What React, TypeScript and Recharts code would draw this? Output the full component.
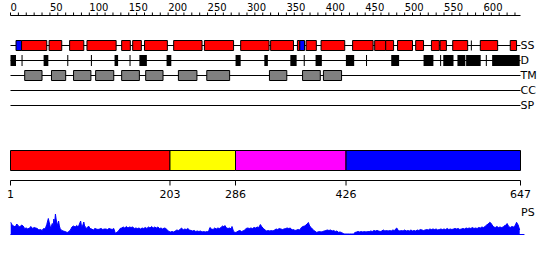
import React from 'react';
import { ComposedChart, AreaChart, Area, XAxis, YAxis, ReferenceArea } from 'recharts';

const FONT = '"DejaVu Sans", Verdana, sans-serif';
const SEQ_LEN = 647;

const rulerLabels = [0, 50, 100, 150, 200, 250, 300, 350, 400, 450, 500, 550, 600];
const rulerTicks = Array.from({ length: 65 }, (_, i) => i * 10);

const trackNames = ['SS', 'D', 'TM', 'CC', 'SP'];

const ssHelix: [number, number][] = [
  [14, 46], [49, 65], [75, 93], [97, 134], [141, 152], [155, 166], [170, 199],
  [207, 243], [246, 283], [292, 328], [330, 359], [364, 367], [375, 388],
  [394, 424], [434, 460], [462, 476], [476, 486], [491, 510], [514, 524],
  [534, 544], [545, 553], [561, 580], [596, 618], [634, 642],
];
const ssStrand: [number, number][] = [[7, 14], [367, 373]];
const ssCoil: [number, number][] = [[584, 585.3]];

const disorderBlocks: [number, number][] = [
  [0, 7], [42, 48], [132, 136.5], [163.5, 173], [198, 204], [285.5, 292], [322, 326.5],
  [355, 363], [387, 395], [425.5, 436], [483, 493], [524, 536.5], [549, 562],
  [567, 577], [578, 596.5], [611, 646],
];
const disorderMarks = [14, 72, 102, 151, 372, 451, 545, 603];

const tmBlocks: [number, number][] = [
  [18, 40], [52, 70], [80, 102], [108, 131], [141, 163.5], [171.5, 193.5],
  [213, 236.5], [249, 278], [328.5, 350.5], [370.5, 393], [397, 420],
];

const domainBounds = [1, 203, 286, 426, 647];
const domainColors = ['#ff0000', '#ffff00', '#ff00ff', '#0000ff'];

const psProfile: [number, number][] = [
  [0, 13], [2, 10], [4, 9], [6, 8], [8, 11], [10, 9], [12, 8], [14, 10], [16, 9], [18, 6.5],
  [20, 7], [22, 6], [24, 7], [26, 8.5], [28, 6.5], [30, 7.5], [32, 7], [34, 6.5], [36, 5], [38, 5.5],
  [40, 4.5], [42, 6.5], [44, 6], [46, 10.5], [48, 16.5], [49, 13], [51, 6.5], [53, 11.5], [54, 9], [55, 16],
  [56, 12], [57, 21], [58, 15], [59, 12], [60, 9], [61, 14], [62, 9], [63, 6.5], [65, 4.5], [67, 4],
  [69, 3.5], [72, 2.5], [74, 3.5], [76, 5], [78, 8], [80, 9], [82, 8], [84, 9.5], [86, 8], [87, 10],
  [89, 14], [90, 9], [91, 8], [93, 13], [94, 9], [95, 8], [97, 6.5], [99, 9], [101, 6.5], [103, 6],
  [105, 5], [107, 6.5], [109, 6], [111, 5.5], [113, 6], [115, 6.5], [117, 5.5], [119, 6], [121, 6], [123, 5.5],
  [125, 6.5], [127, 6], [129, 5.5], [131, 6.5], [133, 1.7], [135, 2.7], [137, 4], [139, 6.5], [141, 7], [143, 8],
  [145, 7], [147, 8.5], [149, 7], [151, 8], [153, 7.5], [155, 8], [157, 6.5], [159, 7], [161, 6.5], [163, 7],
  [165, 6], [167, 7], [169, 6.5], [171, 7.5], [173, 6.5], [175, 8], [177, 7], [179, 8.5], [181, 7], [183, 8],
  [185, 7], [187, 8], [189, 6.5], [191, 7], [193, 6], [195, 7], [197, 6.5], [199, 5], [201, 3.5], [203, 3],
  [205, 3.5], [207, 3], [209, 4], [211, 5], [213, 4.5], [215, 5.5], [217, 7], [219, 5], [221, 6], [223, 5.5],
  [225, 6.5], [227, 5], [229, 4.5], [231, 4], [233, 4.5], [235, 3.5], [237, 4], [239, 3.5], [241, 4], [243, 3],
  [245, 3.5], [247, 3], [249, 3.5], [251, 3], [253, 7.5], [255, 6], [257, 5.5], [259, 7], [261, 6], [263, 7],
  [265, 6.5], [267, 7.5], [269, 9], [271, 8], [272, 9.5], [274, 7], [276, 6.5], [278, 7], [280, 6], [281, 8.5],
  [283, 3.5], [285, 2.5], [287, 3], [289, 4], [291, 4.5], [293, 3.5], [295, 4], [297, 5], [299, 6.5], [301, 7],
  [303, 6.5], [305, 7], [307, 6.5], [309, 7.5], [311, 7], [313, 8], [315, 7.5], [317, 10.5], [319, 8], [321, 6.5],
  [323, 5], [325, 4], [327, 4.5], [329, 4], [331, 4.5], [333, 4], [335, 5], [337, 6], [339, 5.5], [341, 6.5],
  [343, 6], [345, 5.5], [347, 6], [349, 6.5], [351, 7], [353, 6.5], [355, 7], [357, 5], [359, 5.5], [361, 4.5],
  [363, 5], [365, 5.5], [367, 5], [369, 7.5], [371, 8.5], [373, 9], [375, 10], [376, 11], [378, 12.5], [379, 10],
  [380, 8.5], [382, 7], [384, 5], [386, 4], [388, 2.7], [390, 3], [392, 3.5], [394, 3], [396, 3.5], [398, 4],
  [400, 4.5], [402, 5], [404, 4.5], [406, 5], [408, 4], [410, 4.5], [412, 3.5], [414, 4], [416, 2.7], [418, 3],
  [420, 2.5], [422, 1.5], [424, 1], [427, 1], [430, 1], [433, 1], [435, 1], [437, 2.5], [439, 3], [441, 3.5],
  [443, 3], [445, 3.5], [447, 3], [449, 3.5], [451, 3], [453, 3.5], [455, 3.3], [457, 4], [459, 3.5], [461, 4.5],
  [463, 4], [465, 4.5], [467, 4], [469, 3.5], [471, 4], [473, 5], [475, 4], [477, 4.5], [479, 4], [481, 4.5],
  [483, 4], [485, 5], [487, 4.5], [488, 5.5], [490, 7], [492, 4.5], [494, 4], [496, 4.5], [498, 4], [500, 5],
  [502, 4], [504, 4.5], [506, 4], [508, 5], [510, 4], [512, 4.5], [514, 4], [516, 5], [518, 4.5], [520, 5.5],
  [522, 5], [524, 4.5], [526, 5], [528, 5.5], [530, 5], [532, 6], [534, 5.5], [536, 6], [538, 5.5], [540, 6],
  [542, 5], [544, 5.5], [546, 6], [548, 5.5], [550, 6], [552, 5.5], [554, 6.5], [556, 5.5], [558, 6], [560, 5.5],
  [562, 6], [564, 6.5], [566, 6], [568, 6.5], [570, 5.5], [572, 6], [574, 6.5], [576, 6], [578, 7], [580, 6.5],
  [582, 7], [584, 6.5], [586, 7.5], [588, 6.5], [590, 7], [592, 6.5], [594, 7.5], [596, 7], [598, 8], [600, 7.5],
  [602, 8.5], [604, 10], [606, 11], [608, 12.7], [610, 11.5], [611, 10], [613, 8], [615, 7.5], [617, 8.5], [619, 7.5],
  [621, 8], [623, 7.5], [625, 8], [627, 9.5], [629, 10], [630, 11.5], [632, 8.5], [634, 7.5], [636, 8.5], [638, 8],
  [640, 9], [642, 12.7], [644, 10], [646, 5],
];

const psData = psProfile.map(([r, v]) => ({ r, v }));

const MARGIN_L = 10.5;
const MARGIN_R = 29.5;

const RulerTick = (props: any) => {
  const { x, payload } = props;
  if (!rulerLabels.includes(payload.value)) return <g />;
  return (
    <text x={x} y={10.5} textAnchor="start" fontSize={10} fill="#000" fontFamily={FONT}>
      {payload.value}
    </text>
  );
};

const box = (key: string, seg: [number, number], row: number, half: [number, number], fill: string, stroke: string) => (
  <ReferenceArea
    key={key}
    x1={seg[0]}
    x2={seg[1]}
    y1={row - half[0]}
    y2={row + half[1]}
    fill={fill}
    fillOpacity={1}
    stroke={stroke}
    strokeWidth={1}
    ifOverflow="visible"
  />
);

export default function App() {
  const third: [number, number] = [1 / 3, 1 / 3];
  const dHalf: [number, number] = [0.3667, 0.3667];
  return (
    <div style={{ position: 'absolute', left: 0, top: 0, width: 550, height: 260, background: '#fff', fontFamily: FONT }}>
      <div style={{ position: 'absolute', left: 0, top: 0 }}>
        <ComposedChart width={550} height={111} margin={{ top: 0, right: MARGIN_R, bottom: 0, left: MARGIN_L }}>
          <XAxis
            type="number"
            dataKey="x"
            domain={[0, SEQ_LEN]}
            allowDataOverflow
            orientation="top"
            height={15.5}
            ticks={rulerTicks}
            interval={0}
            tickSize={3}
            tickMargin={2}
            tick={RulerTick}
            axisLine={{ stroke: '#000' }}
            tickLine={{ stroke: '#000' }}
          />
          <YAxis type="number" domain={[-1, -1 + 95.5 / 15]} allowDataOverflow reversed hide />
          {trackNames.map((name, i) => (
            <ReferenceArea
              key={name}
              x1={0}
              x2={SEQ_LEN}
              y1={i + 1 - 1 / 30}
              y2={i + 1 + 1 / 30}
              fill="#000"
              fillOpacity={1}
              stroke="none"
              ifOverflow="visible"
              label={{ value: name, position: 'right', offset: 0, fill: '#000', fontSize: 11, fontFamily: FONT }}
            />
          ))}
          {ssHelix.map((s, i) => box('h' + i, s, 1, third, '#ff0000', '#000'))}
          {ssStrand.map((s, i) => box('e' + i, s, 1, third, '#0000ff', '#000'))}
          {ssCoil.map((s, i) => box('c' + i, s, 1, third, '#000', 'none'))}
          {disorderBlocks.map((s, i) => box('d' + i, s, 2, dHalf, '#000', 'none'))}
          {disorderMarks.map((r, i) => box('dm' + i, [r, r + 1.3], 2, dHalf, '#000', 'none'))}
          {tmBlocks.map((s, i) => box('t' + i, s, 3, third, '#808080', '#000'))}
        </ComposedChart>
      </div>
      <div style={{ position: 'absolute', left: 0, top: 140 }}>
        <ComposedChart width={550} height={61} margin={{ top: 0.5, right: MARGIN_R, bottom: 0.5, left: MARGIN_L }}>
          <XAxis
            type="number"
            dataKey="x"
            domain={[1, SEQ_LEN]}
            allowDataOverflow
            ticks={domainBounds}
            interval={0}
            height={20}
            tickSize={5}
            tickMargin={5}
            tick={{ fontSize: 11, fill: '#000', fontFamily: FONT }}
            axisLine={{ stroke: '#000' }}
            tickLine={{ stroke: '#000' }}
          />
          <YAxis type="number" domain={[0, 40]} allowDataOverflow reversed hide />
          {domainColors.map((c, i) => (
            <ReferenceArea
              key={'dom' + i}
              x1={domainBounds[i]}
              x2={domainBounds[i + 1]}
              y1={10}
              y2={30}
              fill={c}
              fillOpacity={1}
              stroke="#000"
              strokeWidth={1}
              ifOverflow="visible"
            />
          ))}
        </ComposedChart>
      </div>
      <div style={{ position: 'absolute', left: 0, top: 200 }}>
        <AreaChart width={550} height={35} data={psData} margin={{ top: 13, right: MARGIN_R, bottom: 0, left: MARGIN_L }}>
          <XAxis type="number" dataKey="r" domain={[0, SEQ_LEN]} allowDataOverflow hide />
          <YAxis type="number" domain={[0, 22]} allowDataOverflow hide />
          <ReferenceArea x1={0} x2={652} y1={0} y2={1} fill="#0000ff" fillOpacity={1} stroke="none" ifOverflow="visible" />
          <Area
            type="linear"
            dataKey="v"
            fill="#0000ff"
            fillOpacity={1}
            stroke="#0000ff"
            strokeWidth={1}
            dot={false}
            activeDot={false}
            isAnimationActive={false}
          />
        </AreaChart>
      </div>
      <svg width={550} height={260} style={{ position: 'absolute', left: 0, top: 0, pointerEvents: 'none' }}>
        <text x={521} y={216} fontSize={11} fill="#000" fontFamily={FONT}>PS</text>
      </svg>
    </div>
  );
}
